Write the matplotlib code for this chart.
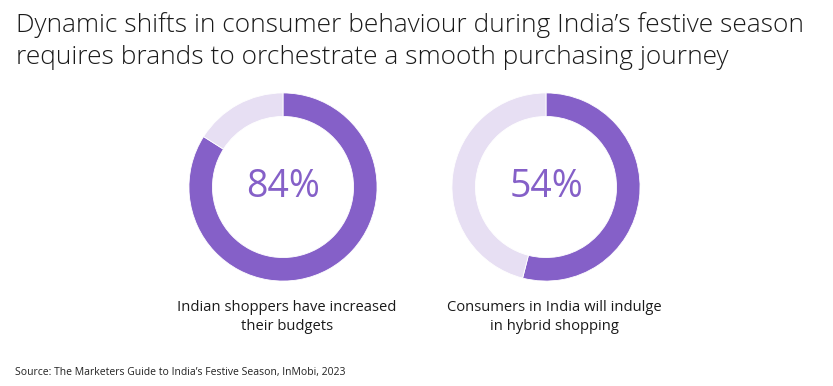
import matplotlib.pyplot as plt

# ---------- DATA ----------
percents = [84, 54]
labels = ["Indian shoppers have increased\ntheir budgets",
          "Consumers in India will indulge\nin hybrid shopping"]
title = ("Dynamic shifts in consumer behaviour during India\u2019s festive season\n"
         "requires brands to orchestrate a smooth purchasing journey")
source = "Source: The Marketers Guide to India\u2019s Festive Season, InMobi, 2023"

DARK = "#8560C8"
LIGHT = "#E7DFF3"
W, H = 833, 386

plt.rcParams['font.family'] = ['Open Sans', 'DejaVu Sans']

fig = plt.figure(figsize=(W / 100, H / 100), dpi=100)
fig.patch.set_facecolor("white")

def px(x, y):
    return x / W, 1 - y / H

# ---------- TITLE ----------
fig.text(*px(16, 41), title, ha="left", va="center", fontsize=18.9,
         color="#1a1a1a", linespacing=1.35, fontweight="light")

# ---------- DONUTS ----------
centers = [283, 546]
label_x = [287, 554]
r = 95
for cx, lx, pct, lab in zip(centers, label_x, percents, labels):
    ax = fig.add_axes([(cx - r) / W, 1 - (187 + r) / H, 2 * r / W, 2 * r / H])
    ax.pie([pct, 100 - pct], colors=[DARK, LIGHT], startangle=90,
           counterclock=False, radius=1.0,
           wedgeprops=dict(width=0.25, edgecolor="white", linewidth=0.6))
    ax.set_xlim(-1.01, 1.01)
    ax.set_ylim(-1.01, 1.01)
    ax.set_aspect("equal")
    ax.axis("off")
    ax.text(0, 0, f"{pct}%", ha="center", va="center", fontsize=27,
            color=DARK)
    fig.text(*px(lx, 317), lab, ha="center", va="center", fontsize=10.6,
             color="#1a1a1a", linespacing=1.3)

# ---------- SOURCE ----------
fig.text(*px(15, 373), source, ha="left", va="center", fontsize=7.45,
         color="#222222")

fig.savefig("out.png", dpi=100, facecolor="white")
